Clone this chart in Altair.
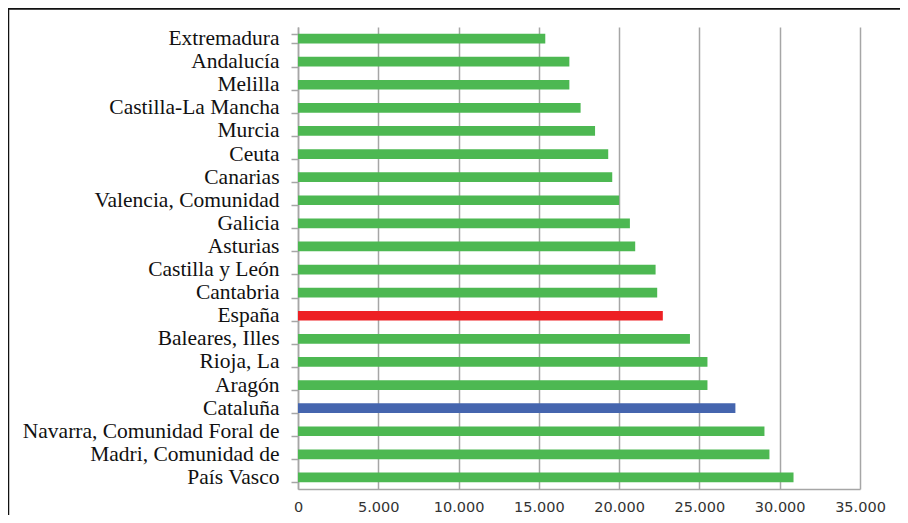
import altair as alt
import pandas as pd

regions = [
    "Extremadura", "Andalucía", "Melilla", "Castilla-La Mancha", "Murcia",
    "Ceuta", "Canarias", "Valencia, Comunidad", "Galicia", "Asturias",
    "Castilla y León", "Cantabria", "España", "Baleares, Illes", "Rioja, La",
    "Aragón", "Cataluña", "Navarra, Comunidad Foral de", "Madri, Comunidad de",
    "País Vasco",
]
values = [
    15400, 16900, 16900, 17600, 18500,
    19320, 19570, 20000, 20670, 21000,
    22270, 22370, 22720, 24410, 25500,
    25500, 27240, 29050, 29360, 30860,
]
groups = [
    "region", "region", "region", "region", "region",
    "region", "region", "region", "region", "region",
    "region", "region", "spain", "region", "region",
    "region", "cat", "region", "region", "region",
]
group_domain = ["region", "spain", "cat"]
group_colors = ["#4DB852", "#ED2024", "#4565AE"]
x_ticks = [0, 5000, 10000, 15000, 20000, 25000, 30000, 35000]

df = pd.DataFrame({"region": regions, "value": values, "group": groups})

bars = alt.Chart(df).mark_bar().encode(
    x=alt.X(
        "value:Q",
        scale=alt.Scale(domain=[0, 35000], nice=False),
        axis=alt.Axis(
            values=x_ticks,
            title=None,
            grid=True,
            gridColor="#a6a6a6",
            gridWidth=1.5,
            ticks=False,
            domainColor="#a6a6a6",
            domainWidth=1.5,
            labelFont="DejaVu Sans",
            labelFontSize=14.5,
            labelColor="#333333",
            labelPadding=11.5,
            labelFlush=False,
            labelExpr="replace(format(datum.value, ','), ',', '.')",
        ),
    ),
    y=alt.Y(
        "region:N",
        sort=regions,
        scale=alt.Scale(paddingInner=0.58, paddingOuter=0.29),
        axis=alt.Axis(
            title=None,
            grid=False,
            tickBand="extent",
            tickSize=7,
            tickColor="#a6a6a6",
            tickWidth=1.5,
            domainColor="#a6a6a6",
            domainWidth=1.5,
            labelFont="Liberation Serif",
            labelFontSize=21.5,
            labelColor="#111111",
            labelPadding=12,
            labelLimit=400,
        ),
    ),
    color=alt.Color(
        "group:N",
        scale=alt.Scale(domain=group_domain, range=group_colors),
        legend=None,
    ),
)

border = alt.Chart(pd.DataFrame({"k": [0]})).mark_rect(
    fill=None, stroke="#111111", strokeWidth=2.5
).encode(
    x=alt.value(-290),
    x2=alt.value(620),
    y=alt.value(-18.5),
    y2=alt.value(540),
)

chart = alt.layer(bars, border).properties(
    width=562,
    height=462,
    autosize=alt.AutoSizeParams(type="none"),
    padding={"left": 290, "top": 19, "right": 40, "bottom": 26},
).configure_view(stroke=None)

chart.save("out.html", embed_options={"renderer": "svg", "actions": False})
